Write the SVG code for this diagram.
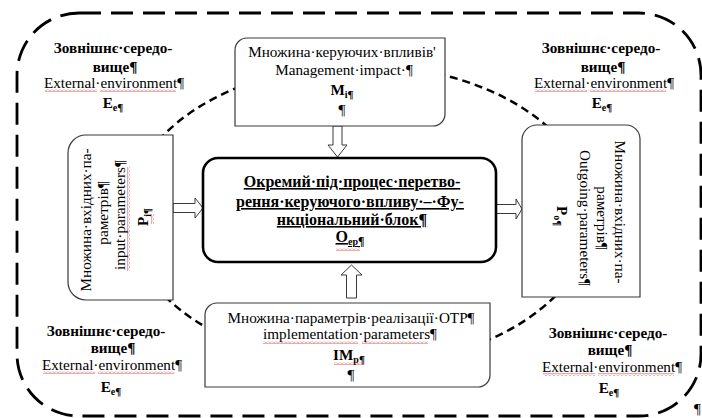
<svg xmlns="http://www.w3.org/2000/svg" width="702" height="418" viewBox="0 0 702 418">
<style>
.t{font-family:"Liberation Serif","DejaVu Serif","Noto Serif",serif;font-size:15.2px;fill:#000}
.b{font-weight:bold}
.c{text-anchor:middle}
.big{font-size:16px;font-weight:bold;text-decoration:underline}
.box{fill:#fff;stroke:#3a3a3a;stroke-width:1.2}
.main{fill:#fff;stroke:#000;stroke-width:2.6}
.arr{fill:#fff;stroke:#3a3a3a;stroke-width:1}
.wv{fill:url(#wave)}
</style>
<defs>
<pattern id="wave" patternUnits="userSpaceOnUse" width="4" height="3">
<path d="M0 2.5 L2 0.5 L4 2.5" fill="none" stroke="#e02020" stroke-width="0.8"/>
</pattern>
</defs>
<rect width="702" height="418" fill="#fff"/>
<!-- outer environment boundary -->
<rect x="17" y="13" width="684" height="403" rx="62" ry="62" fill="none" stroke="#000" stroke-width="2.8" stroke-dasharray="22 10"/>
<!-- inner process boundary -->
<ellipse cx="360" cy="215" rx="232" ry="150" fill="none" stroke="#000" stroke-width="2.5" stroke-dasharray="8 5"/>

<g id="env-tl" class="t c">
<text x="113" y="53" class="b">Зовнішнє·середо-</text>
<text x="115" y="72" class="b">вище¶</text>
<text x="114" y="88">External·environment¶</text>
<text x="113" y="108" class="b">E<tspan font-size="10" dy="3">e</tspan><tspan font-size="11">¶</tspan></text>
<rect class="wv" x="45" y="89" width="52" height="3"/><rect class="wv" x="100" y="89" width="76" height="3"/>
</g>
<g id="env-tr" class="t c">
<text x="601" y="53" class="b">Зовнішнє·середо-</text>
<text x="603" y="72" class="b">вище¶</text>
<text x="604" y="88">External·environment¶</text>
<text x="602" y="108" class="b">E<tspan font-size="10" dy="3">e</tspan><tspan font-size="11">¶</tspan></text>
<rect class="wv" x="535" y="89" width="52" height="3"/><rect class="wv" x="590" y="89" width="76" height="3"/>
</g>
<g id="env-bl" class="t c">
<text x="106" y="336" class="b">Зовнішнє·середо-</text>
<text x="113" y="353" class="b">вище¶</text>
<text x="112" y="370">External·environment¶</text>
<text x="111" y="392" class="b">E<tspan font-size="10" dy="3">e</tspan><tspan font-size="11">¶</tspan></text>
<rect class="wv" x="43" y="371" width="52" height="3"/><rect class="wv" x="98" y="371" width="76" height="3"/>
</g>
<g id="env-br" class="t c">
<text x="608" y="338" class="b">Зовнішнє·середо-</text>
<text x="610" y="355" class="b">вище¶</text>
<text x="612" y="372">External·environment¶</text>
<text x="609" y="393" class="b">E<tspan font-size="10" dy="3">e</tspan><tspan font-size="11">¶</tspan></text>
<rect class="wv" x="543" y="373" width="52" height="3"/><rect class="wv" x="598" y="373" width="76" height="3"/>
</g>

<g id="connectors">
<polygon class="arr" points="333,126 342,126 342,145 347,145 337.5,157 328,145 333,145"/>
<polygon class="arr" points="346.5,298 356.5,298 356.5,275 362,275 351.5,265 341,275 346.5,275"/>
<polygon class="arr" points="173,203.5 195,203.5 195,198 203,208 195,218 195,212.5 173,212.5"/>
<polygon class="arr" points="496,204.5 516,204.5 516,199 522,209 516,219 516,213.5 496,213.5"/>
</g>

<g id="management-impact">
<path class="box" d="M247 38 H445 V114 A12 12 0 0 1 433 126 H235 V50 A12 12 0 0 1 247 38 Z"/>
<g class="t c">
<text x="342" y="57">Множина·керуючих·впливів'</text>
<text x="344" y="75">Management·impact·¶</text>
<text x="342" y="95" class="b">M<tspan font-size="10" dy="3">i</tspan><tspan font-size="11">¶</tspan></text>
<text x="342" y="115">¶</text>
</g>
</g>

<g id="input-parameters">
<path class="box" d="M86 135 H173 V300 H86 A18 18 0 0 1 68 282 V153 A18 18 0 0 1 86 135 Z"/>
<g class="t c" transform="translate(0,217) rotate(-90)">
<text x="-3" y="91">Множина·вхідних·па-</text>
<text x="4" y="108">раметрів¶</text>
<text x="2" y="125">input·parameters¶</text>
<text x="0" y="148" class="b">P<tspan font-size="10" dy="3">i</tspan><tspan font-size="11">¶</tspan></text>
<rect class="wv" x="-54" y="127" width="104" height="3"/>
<rect class="wv" x="-7" y="151" width="10" height="3"/>
</g>
</g>

<g id="functional-block">
<rect class="main" x="203" y="158" width="293" height="104" rx="15" ry="15"/>
<g class="t c">
<text x="352" y="187" class="big">Окремий·під·процес·перетво-</text>
<text x="350" y="207" class="big">рення·керуючого·впливу·–·Фу-</text>
<text x="352" y="225" class="big">нкціональний·блок¶</text>
<text x="350" y="242" class="big">O<tspan font-size="10" dy="3">ep</tspan><tspan font-size="12">¶</tspan></text>
<rect class="wv" x="336" y="248" width="24" height="3"/>
</g>
</g>

<g id="outgoing-parameters">
<path class="box" d="M537 125 H626 A14 14 0 0 1 640 139 V297 H522 V140 A15 15 0 0 1 537 125 Z"/>
<g class="t c" transform="translate(0,215) rotate(90)">
<text x="-3" y="-615">Множина·вхідних·па-</text>
<text x="3" y="-597">раметрів¶</text>
<text x="3" y="-580">Outgoing·parameters¶</text>
<text x="1" y="-557" class="b">P<tspan font-size="10" dy="3">o</tspan><tspan font-size="11">¶</tspan></text>
</g>
</g>

<g id="implementation-parameters">
<path class="box" d="M217 303 H490 V375 A12 12 0 0 1 478 387 H205 V315 A12 12 0 0 1 217 303 Z"/>
<g class="t c">
<text x="351" y="323">Множина·параметрів·реалізації·ОТР¶</text>
<text x="350" y="339">implementation·parameters¶</text>
<text x="349" y="360" class="b">IM<tspan font-size="10" dy="3">p</tspan><tspan font-size="11">¶</tspan></text>
<text x="351" y="380">¶</text>
<rect class="wv" x="263" y="341" width="95" height="3"/><rect class="wv" x="362" y="341" width="66" height="3"/>
<rect class="wv" x="334" y="362" width="30" height="3"/>
</g>
</g>
<text x="694" y="414" class="t" font-size="11" fill="#555">¶</text>
</svg>
